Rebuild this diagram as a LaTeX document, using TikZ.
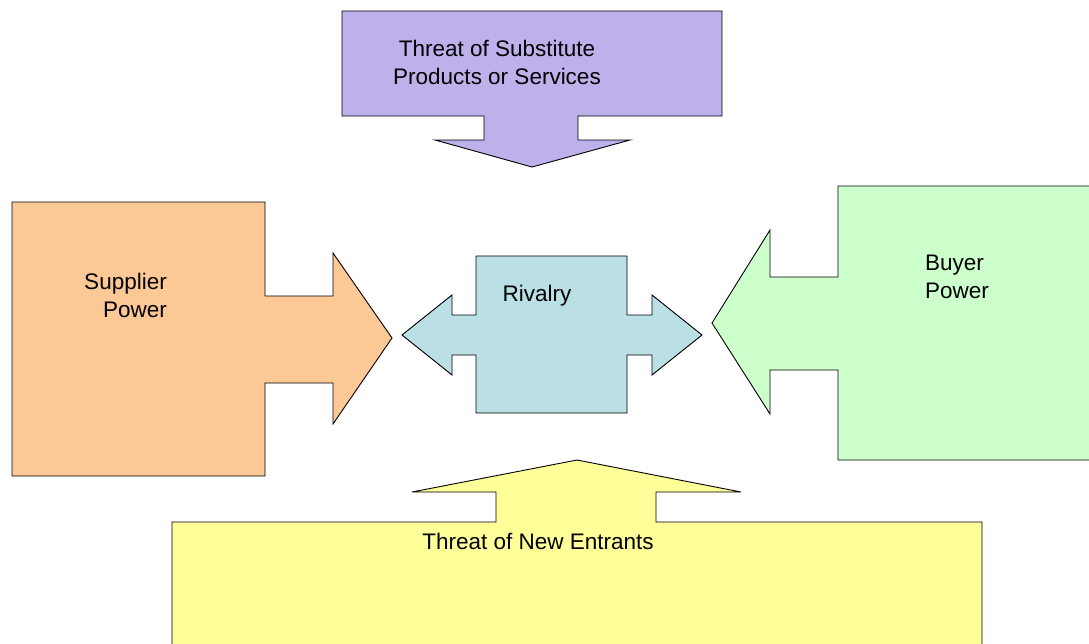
\documentclass[tikz,border=0pt]{standalone}
\usepackage{fontspec}
\setmainfont{Liberation Sans}
\usepackage{tikz}
\usetikzlibrary{positioning}
\definecolor{lightpurple}{RGB}{189,176,235}
\definecolor{lightorange}{RGB}{252,200,150}
\definecolor{lightcyan}{RGB}{186,223,228}
\definecolor{lightgreen}{RGB}{204,255,204}
\definecolor{lightyellow}{RGB}{255,255,153}
\tikzset{
  force/.style={draw=black, line width=0.9pt, line join=miter},
  label/.style={inner sep=0pt, font=\fontsize{22.5}{28}\selectfont}
}

\begin{document}
\begin{tikzpicture}[x=1pt, y=-1pt]
        \useasboundingbox (0,0) rectangle (1089,643);
        \clip (0,0) rectangle (1089,643);

        % Substitutes (top)
        \draw[force, fill=lightpurple] (342,11) -- (722,11) -- (722,116) -- (578,116) -- (578,140) -- (630,140)
            -- (532,167) -- (435,140) -- (484,140) -- (484,116) -- (342,116) -- cycle;
        \node[label, align=center, anchor=north] (subst) at (497,40) {Threat of Substitute\\Products or Services};

        % Supplier power (left)
        \draw[force, fill=lightorange] (12,202) -- (265,202) -- (265,296) -- (333,296) -- (333,253) -- (392,338)
            -- (333,424) -- (333,383) -- (265,383) -- (265,476) -- (12,476) -- cycle;
        \node[label, align=right, anchor=north east] (supplier) at (167,273) {Supplier\\Power};

        % Rivalry (centre)
        \draw[force, fill=lightcyan] (476,256) -- (627,256) -- (627,315) -- (652,315) -- (652,295) -- (702,335)
            -- (652,375) -- (652,355) -- (627,355) -- (627,413) -- (476,413) -- (476,355) -- (452,355)
            -- (452,375) -- (402,335) -- (452,295) -- (452,315) -- (476,315) -- cycle;
        \node[label, anchor=base] (rivalry) at (537,301) {Rivalry};

        % Buyer power (right)
        \draw[force, fill=lightgreen] (838,186) -- (1100,186) -- (1100,460) -- (838,460) -- (838,370) -- (770,370)
            -- (770,414) -- (712,323) -- (770,230) -- (770,277) -- (838,277) -- cycle;
        \node[label, align=left, anchor=north west] (buyer) at (925,255) {Buyer\\Power};

        % New entrants (bottom)
        \draw[force, fill=lightyellow] (172,522) -- (496,522) -- (496,492) -- (412,492) -- (577,460) -- (741,492)
            -- (656,492) -- (656,522) -- (982,522) -- (982,660) -- (172,660) -- cycle;
        \node[label, anchor=base] (entrants) at (538,549) {Threat of New Entrants};
    \end{tikzpicture}
\end{document}
